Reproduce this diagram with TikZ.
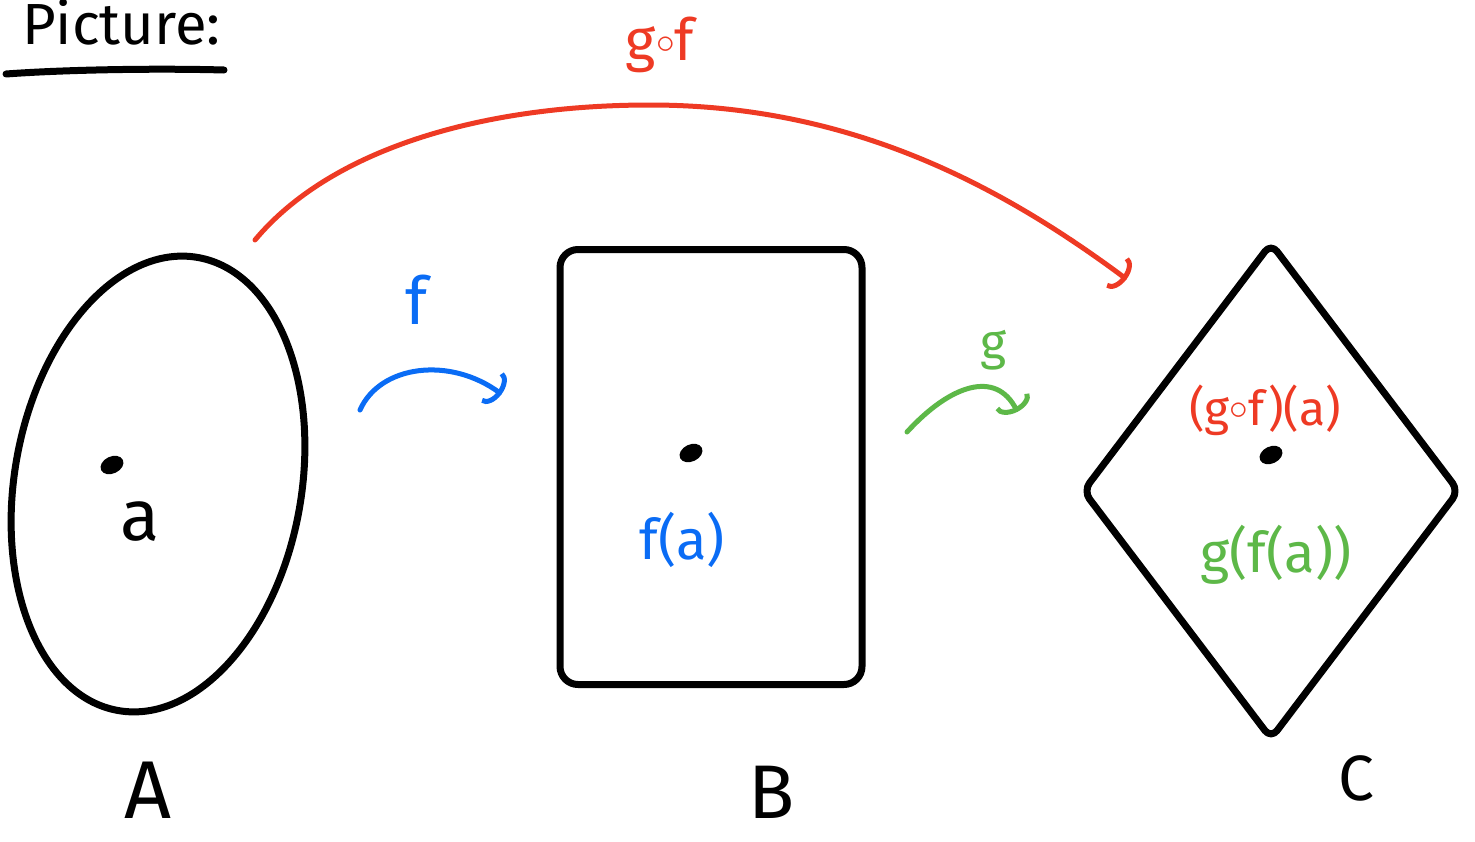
\documentclass[tikz,border=0pt]{standalone}
\usepackage{fontspec}
\setmainfont{Fira Sans}
\usetikzlibrary{shapes.geometric,arrows.meta,calc}
\definecolor{hred}{HTML}{EE3A24}
\definecolor{hblue}{HTML}{0A6CF5}
\definecolor{hgreen}{HTML}{5DB848}
\newcommand{\compo}{\raisebox{0.12em}{\scalebox{1.5}{$\circ$}}}
\tikzset{
  shapeline/.style={draw=black,line width=7pt,line join=round,line cap=round,inner sep=0pt},
  dotmark/.style={shape=ellipse,fill=black,minimum width=24pt,minimum height=17pt,inner sep=0pt,rotate=25},
  maparrow/.style={line width=5pt,line cap=round,-{Arc Barb[length=12pt,width=38pt,sep=8pt]}},
  lbl/.style={inner sep=0pt},
}
\begin{document}
\begin{tikzpicture}[x=1pt,y=-1pt]
\useasboundingbox (0,0) rectangle (1475,841);
% title
\node[lbl,anchor=base west,font=\fontsize{58}{60}\selectfont] (title) at (22,44) {Picture:};
\coordinate (ul1) at (6,74);
\coordinate (ul2) at (224,70);
\draw[line width=7pt,line cap=round] (ul1) .. controls (60,70) and (150,68) .. (ul2);
% sets
\node[shapeline,shape=ellipse,minimum width=287pt,minimum height=460pt,rotate=-10] (A) at (158,484) {};
\node[shapeline,shape=rectangle,rounded corners=18pt,minimum width=302pt,minimum height=435pt] (B) at (711,467) {};
\node[shapeline,shape=diamond,aspect=0.76,minimum width=378pt,minimum height=498pt,rounded corners=10pt] (C) at (1271,491) {};
% set labels
\node[lbl,font=\fontsize{82}{86}\selectfont] (LA) at (148,790) {A};
\node[lbl,font=\fontsize{76}{80}\selectfont] (LB) at (772,792) {B};
\node[lbl,font=\fontsize{64}{70}\selectfont] (LC) at (1356,778) {C};
% elements
\node[dotmark] (da) at (112,465) {};
\node[lbl,font=\fontsize{72}{74}\selectfont] (ta) at (140,522) {a};
\node[dotmark] (db) at (691,453) {};
\node[lbl,text=hblue,font=\fontsize{56}{60}\selectfont] (tb) at (682,540) {f(a)};
\node[dotmark] (dc) at (1271,455) {};
\node[lbl,text=hred,font=\fontsize{48}{50}\selectfont] (tc1) at (1265,410) {(g\compo f)(a)};
\node[lbl,text=hgreen,font=\fontsize{56}{60}\selectfont] (tc2) at (1276,555) {g(f(a))};
% arrows
\coordinate (fS) at ($(A.center)+(202,-74)$);
\coordinate (fE) at ($(B.center)+(-203,-68)$);
\draw[maparrow,draw=hblue] (fS) .. controls ($(fS)+(20,-45)$) and ($(fE)+(-58,-43)$) .. (fE);
\node[lbl,text=hblue,font=\fontsize{66}{70}\selectfont] (lf) at (417,300) {f};
\coordinate (gS) at ($(B.center)+(196,-35)$);
\coordinate (gE) at ($(C.center)+(-250,-72)$);
\draw[maparrow,draw=hgreen] (gS) .. controls ($(gS)+(43,-47)$) and ($(gE)+(-25,-50)$) .. (gE);
\node[lbl,text=hgreen,font=\fontsize{50}{54}\selectfont] (lg) at (993,350) {g};
\coordinate (gfS) at ($(A.center)+(97,-244)$);
\coordinate (gfE) at ($(C.center)+(-138,-207)$);
\draw[maparrow,draw=hred] (gfS) .. controls (330,150) and (480,105) .. (650,105)
  .. controls (850,105) and (1000,185) .. (gfE);
\node[lbl,text=hred,font=\fontsize{58}{60}\selectfont] (lgf) at (660,45) {g\compo f};
\end{tikzpicture}
\end{document}
